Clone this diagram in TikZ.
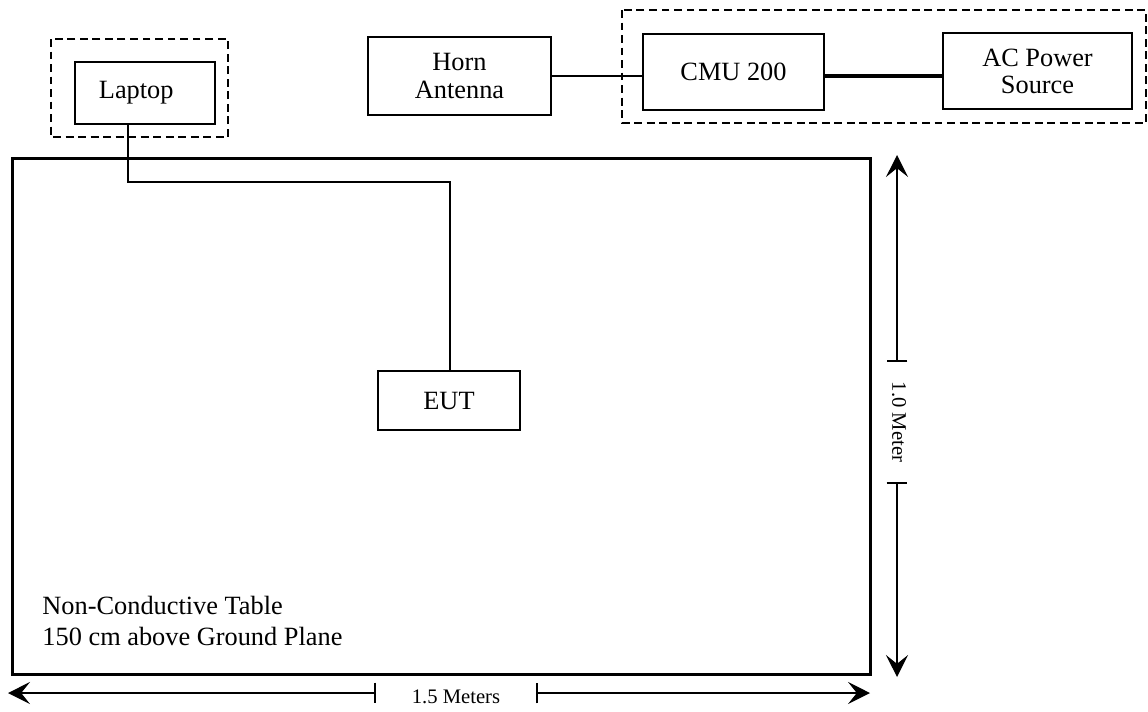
\documentclass[tikz,border=0pt]{standalone}
\usepackage{fontspec}
\setmainfont{Liberation Serif}
\usetikzlibrary{arrows.meta}

\begin{document}
\begin{tikzpicture}[x=0.016cm,y=-0.016cm,
  box/.style={draw,line width=0.85pt,align=center,inner sep=0pt,
    font=\fontsize{12}{12.3}\selectfont},
  wire/.style={line width=0.75pt},
  grp/.style={line width=0.75pt,dash pattern=on 3.6pt off 2.1pt},
  dim/.style={line width=0.7pt,{Stealth[length=10pt,width=10pt,inset=4pt]}-{Bar[width=9.5pt]}},
  dimlbl/.style={font=\fontsize{9.4}{11}\selectfont,inner sep=0pt}]
  \useasboundingbox (0,0) rectangle (1148,711);
  % Table
  \node[draw,line width=1.4pt,minimum width=13.744cm,minimum height=8.272cm,inner sep=0pt]
    (table) at (441.5,416.5) {};
  \node[anchor=west,align=left,inner sep=0pt,font=\fontsize{12}{13.7}\selectfont]
    (tbltxt) at (42,621) {Non-Conductive Table\\150 cm above Ground Plane};
  % Laptop group
  \draw[grp] (51,39) rectangle (228,137);
  \node[box,minimum width=2.24cm,minimum height=0.992cm] (laptop) at (145,93) {Laptop\hspace{0.28cm}};
  % Antenna and tester group
  \node[box,minimum width=2.928cm,minimum height=1.248cm] (horn) at (459.5,76) {Horn\\Antenna};
  \draw[grp] (622,10) rectangle (1146,123);
  \node[box,minimum width=2.896cm,minimum height=1.216cm] (cmu) at (733.5,72) {CMU 200};
  \node[box,minimum width=3.024cm,minimum height=1.216cm] (acsrc) at (1037.5,71) {AC Power\\Source};
  % EUT
  \node[box,minimum width=2.272cm,minimum height=0.944cm] (eut) at (449,400.5) {EUT};
  % Cables
  \coordinate (jn) at (450,182);
  \draw[wire] ([xshift=-0.272cm]laptop.south) |- (jn) -- (jn |- eut.north);
  \draw[wire] (horn.east) -- (horn.east -| cmu.west);
  \draw[line width=1.4pt] (horn.east -| cmu.east) -- (horn.east -| acsrc.west);
  % Dimensions
  \draw[dim] (897,155) -- (897,362);
  \draw[dim] (897,677) -- (897,482);
  \node[dimlbl,rotate=-90] (hlbl) at (899,422) {1.0 Meter};
  \draw[dim] (8,693) -- (376,693);
  \draw[dim] (870,693) -- (536,693);
  \node[dimlbl] (wlbl) at (456,697) {1.5 Meters};
\end{tikzpicture}
\end{document}
